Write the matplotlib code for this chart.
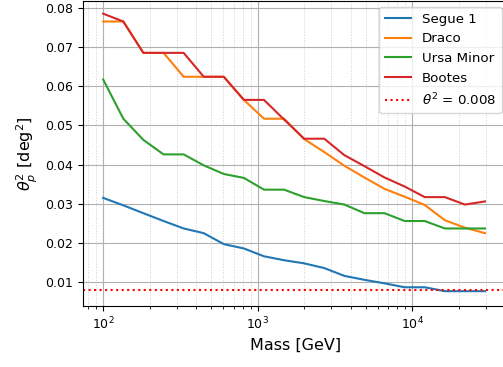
import matplotlib.pyplot as plt

# masses in GeV (log spaced, 100 .. 30000)
mass = [100, 135, 182, 246, 332, 448, 604, 815, 1100, 1484,
        2002, 2702, 3646, 4920, 6639, 8958, 12088, 16311, 22009, 29698]

segue1 = [0.0315, 0.0296, 0.0276, 0.0256, 0.0237, 0.0225, 0.0197, 0.0186, 0.0166, 0.0156,
          0.0148, 0.0136, 0.0116, 0.0106, 0.0097, 0.0087, 0.0087, 0.0077, 0.0077, 0.0077]
draco = [0.0765, 0.0765, 0.0685, 0.0685, 0.0624, 0.0624, 0.0624, 0.0565, 0.0517, 0.0517,
         0.0465, 0.0432, 0.0397, 0.0367, 0.0338, 0.0318, 0.0297, 0.0258, 0.0239, 0.0225]
ursa_minor = [0.0617, 0.0517, 0.0463, 0.0426, 0.0426, 0.0398, 0.0376, 0.0366, 0.0336, 0.0336,
              0.0317, 0.0307, 0.0298, 0.0276, 0.0276, 0.0256, 0.0256, 0.0237, 0.0237, 0.0237]
bootes = [0.0785, 0.0765, 0.0685, 0.0685, 0.0685, 0.0624, 0.0624, 0.0565, 0.0565, 0.0515,
          0.0466, 0.0466, 0.0424, 0.0396, 0.0367, 0.0344, 0.0317, 0.0317, 0.0298, 0.0306]

theta2_cut = 0.008


def main():
    fig = plt.figure(figsize=(5.03, 3.67), dpi=100)
    ax = fig.add_axes([0.165, 0.166, 0.846, 0.832])

    ax.plot(mass, segue1, label="Segue 1")
    ax.plot(mass, draco, label="Draco")
    ax.plot(mass, ursa_minor, label="Ursa Minor")
    ax.plot(mass, bootes, label="Bootes")
    ax.axhline(theta2_cut, color="red", ls=":", lw=1.5,
               label=r"$\theta^2$ = " + str(theta2_cut))

    ax.set_xscale("log")
    ax.set_xlim(74, 42170)
    ax.set_ylim(0.0039, 0.0818)

    # сетка: основная сплошная, дополнительная пунктиром
    ax.grid(which="major", color="#b0b0b0", lw=0.8)
    ax.grid(which="minor", axis="x", color="#d0d0d0", ls=":", lw=0.7)

    ax.tick_params(labelsize=9)
    ax.set_xlabel("Mass [GeV]", fontsize=11.5)
    ax.set_ylabel(r"$\theta_p^2$ [deg$^2$]", fontsize=11.5)
    ax.legend(loc="upper right", fontsize=9.6)

    fig.savefig("out.png", dpi=100)


if __name__ == "__main__":
    main()
